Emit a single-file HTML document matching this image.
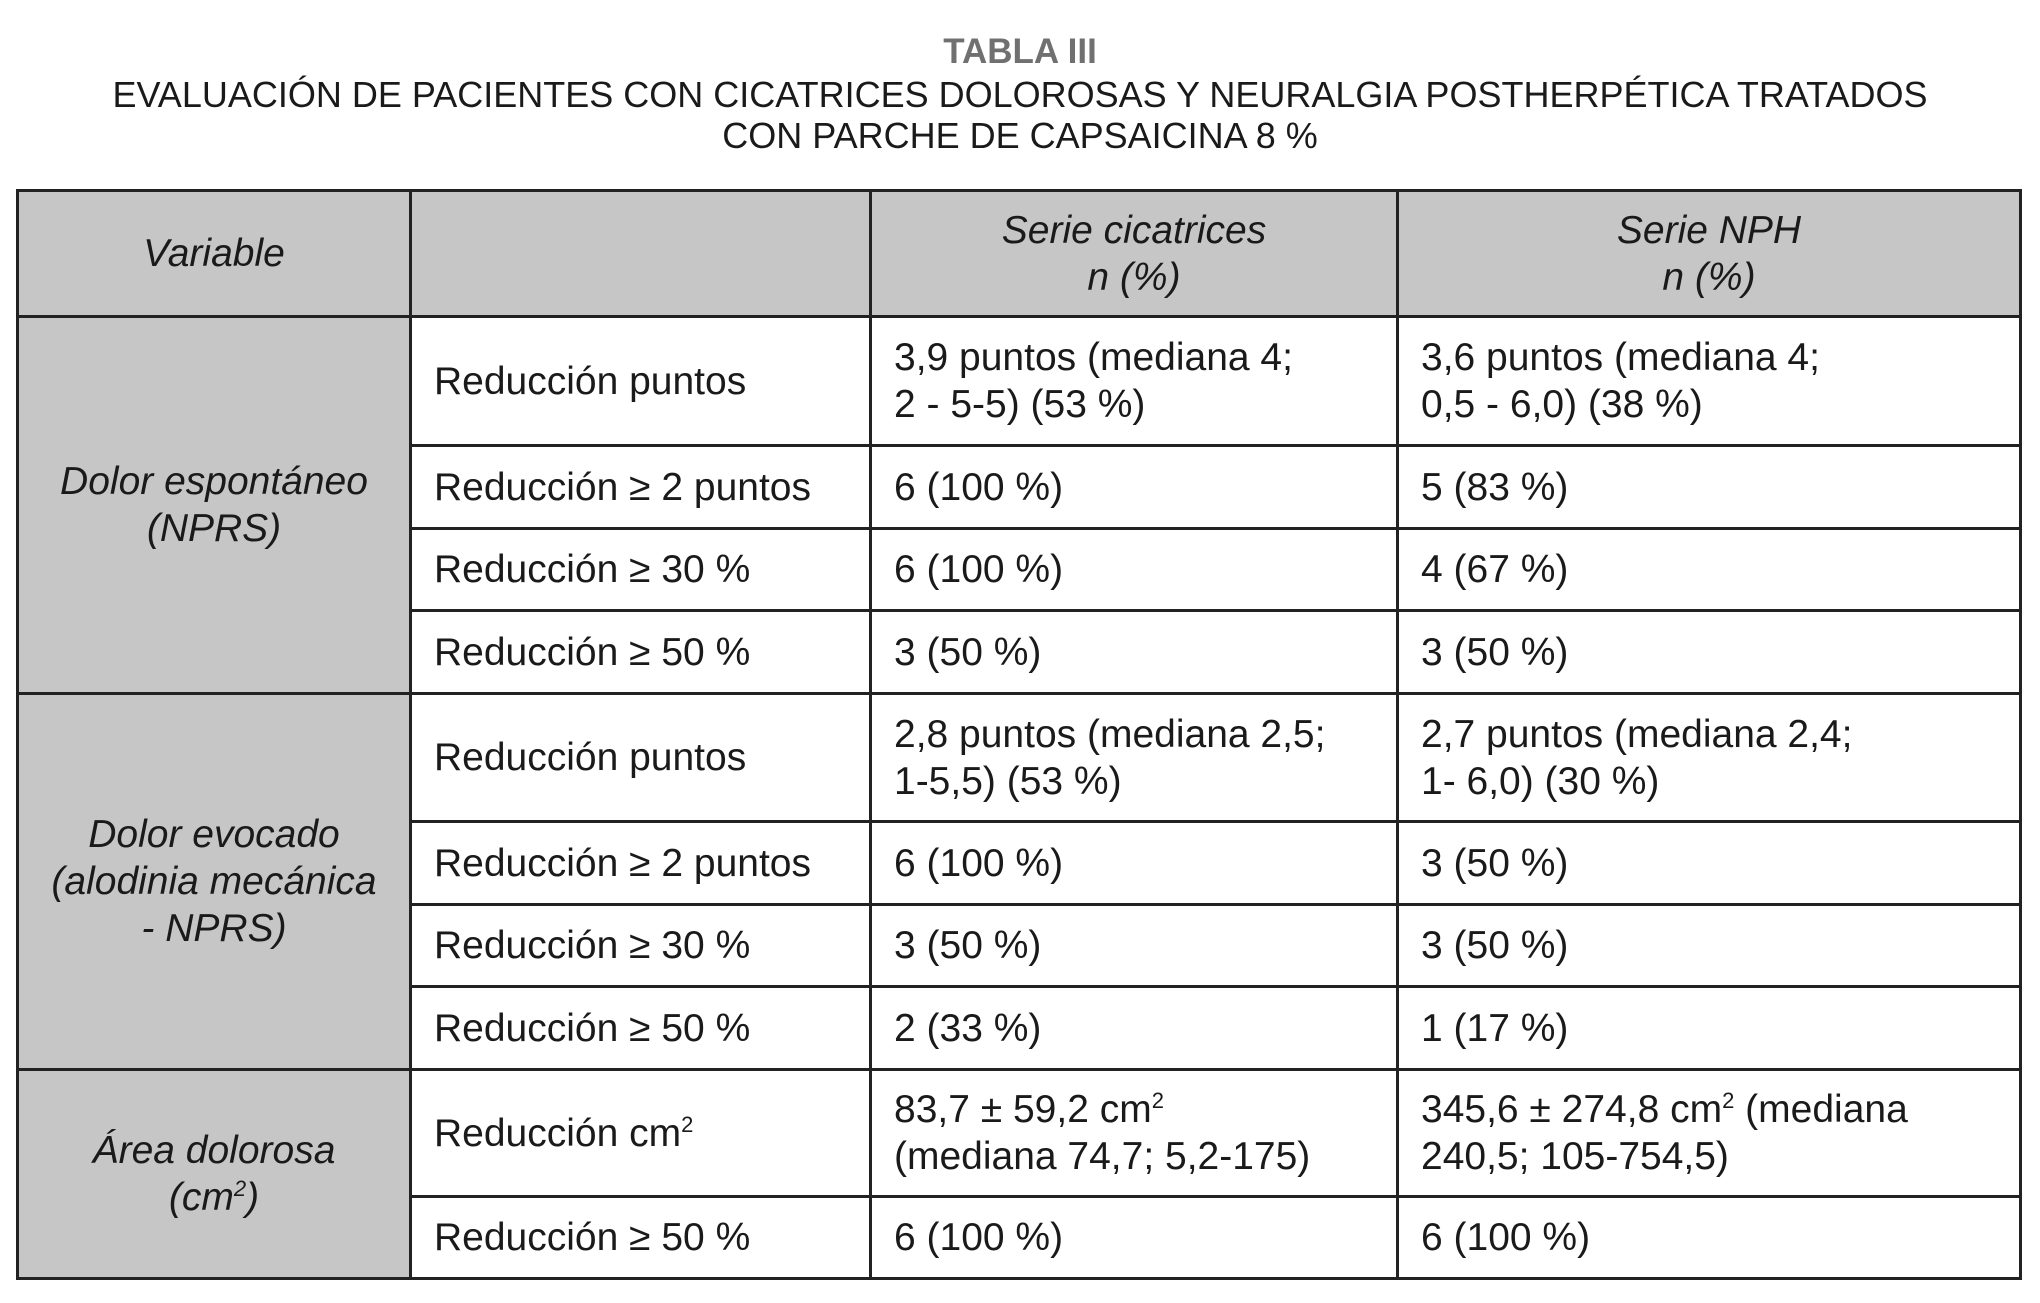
<!DOCTYPE html>
<html><head><meta charset="utf-8"><style>
body{margin:0;background:#fff;width:2040px;height:1303px;overflow:hidden;font-family:"Liberation Sans",sans-serif;color:#1a1a1a}
.t{position:absolute;left:0;width:2040px;text-align:center;font-size:36px;line-height:42px}
table{position:absolute;left:16px;top:189px;border-collapse:collapse;table-layout:fixed}
td{border:3px solid #222;font-size:39px;line-height:47px;padding:0 0 0 22px;vertical-align:middle}
.g{background:#c6c6c6;text-align:center;font-style:italic;padding:0}
.h{background:#c6c6c6;text-align:center;font-style:italic;padding:0}
sup{font-size:22px;vertical-align:14px;line-height:0}
</style></head><body>
<div class="t" style="top:31px;font-weight:bold;color:#707070;font-size:35px">TABLA III</div>
<div class="t" style="top:74px">EVALUACIÓN DE PACIENTES CON CICATRICES DOLOROSAS Y NEURALGIA POSTHERPÉTICA TRATADOS</div>
<div class="t" style="top:115px">CON PARCHE DE CAPSAICINA 8 %</div>
<table>
<colgroup><col style="width:393px"><col style="width:460px"><col style="width:527px"><col style="width:623px"></colgroup>
<tr style="height:126px"><td class="h">Variable</td><td class="h"></td><td class="h">Serie cicatrices<br>n (%)</td><td class="h">Serie NPH<br>n (%)</td></tr>
<tr style="height:129px"><td class="g" rowspan="4">Dolor espontáneo<br>(NPRS)</td><td>Reducción puntos</td><td>3,9 puntos (mediana 4;<br>2 - 5-5) (53 %)</td><td>3,6 puntos (mediana 4;<br>0,5 - 6,0) (38 %)</td></tr>
<tr style="height:83px"><td>Reducción ≥ 2 puntos</td><td>6 (100 %)</td><td>5 (83 %)</td></tr>
<tr style="height:82px"><td>Reducción ≥ 30 %</td><td>6 (100 %)</td><td>4 (67 %)</td></tr>
<tr style="height:83px"><td>Reducción ≥ 50 %</td><td>3 (50 %)</td><td>3 (50 %)</td></tr>
<tr style="height:128px"><td class="g" rowspan="4">Dolor evocado<br>(alodinia mecánica<br>- NPRS)</td><td>Reducción puntos</td><td>2,8 puntos (mediana 2,5;<br>1-5,5) (53 %)</td><td>2,7 puntos (mediana 2,4;<br>1- 6,0) (30 %)</td></tr>
<tr style="height:83px"><td>Reducción ≥ 2 puntos</td><td>6 (100 %)</td><td>3 (50 %)</td></tr>
<tr style="height:82px"><td>Reducción ≥ 30 %</td><td>3 (50 %)</td><td>3 (50 %)</td></tr>
<tr style="height:83px"><td>Reducción ≥ 50 %</td><td>2 (33 %)</td><td>1 (17 %)</td></tr>
<tr style="height:127px"><td class="g" rowspan="2">Área dolorosa<br>(cm<sup>2</sup>)</td><td>Reducción cm<sup>2</sup></td><td>83,7 ± 59,2 cm<sup>2</sup><br>(mediana 74,7; 5,2-175)</td><td>345,6 ± 274,8 cm<sup>2</sup> (mediana<br>240,5; 105-754,5)</td></tr>
<tr style="height:82px"><td>Reducción ≥ 50 %</td><td>6 (100 %)</td><td>6 (100 %)</td></tr>
</table>
</body></html>
